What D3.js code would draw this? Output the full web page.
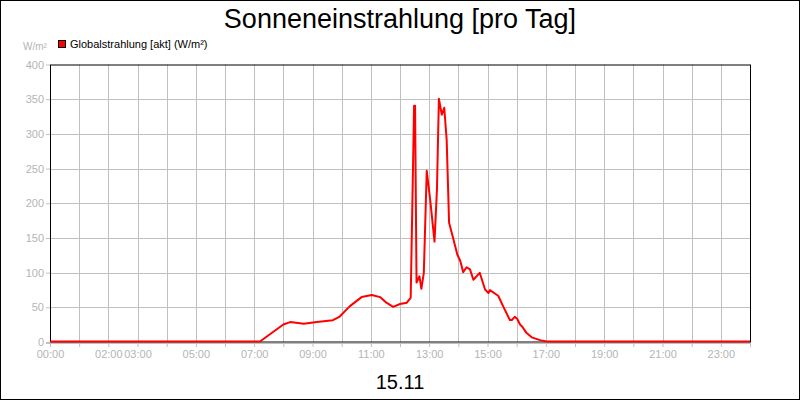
<!DOCTYPE html>
<html lang="de">
<head>
<meta charset="utf-8">
<script src="https://d3js.org/d3.v7.min.js"></script>
<style>
  body { margin: 0; background: #fff; }
  text { font-family: "Liberation Sans", Arial, sans-serif; }
</style>
</head>
<body>
<svg id="chart" width="800" height="400"></svg>
<script>
// readings of the day (time, W/m²)
var times = ["00:00","07:12","08:00","08:14","08:42","09:09","09:42","09:56","10:17","10:41",
  "11:02","11:19","11:32","11:46","12:00","12:14","12:19","12:22","12:29","12:31",
  "12:34","12:40","12:44","12:49","12:55","13:02","13:11","13:16","13:20","13:26",
  "13:31","13:36","13:41","13:50","13:58","14:04","14:10","14:17","14:24","14:31",
  "14:44","14:55","15:02","15:05","15:22","15:32","15:46","15:50","15:56","16:01",
  "16:07","16:12","16:20","16:31","16:48","17:02","24:00"];
var values = [0,0,24.5,28,25.5,28,30.7,36,51,64,
  67,64,56,50,54,56,60.5,63,340,340,
  85,94,76,99,246,205,144,219,350,327,
  337,291,171,147,125,116,100,107,104,89,
  99,75,70,74,66,51,31,31,35.5,32.7,
  24.5,21,12.5,6,2,0,0];

var yTicks = [0, 50, 100, 150, 200, 250, 300, 350, 400];
var xLabels = ["00:00","02:00","03:00","05:00","07:00","09:00","11:00","13:00","15:00","17:00","19:00","21:00","23:00"];
var title = "Sonneneinstrahlung [pro Tag]";
var dayLabel = "15.11";
var seriesName = "Globalstrahlung [akt] (W/m²)";
var unit = "W/m²";

function toHours(s) {
  var p = s.split(":");
  return +p[0] + (+p[1]) / 60;
}
var data = times.map(function(t, i) { return [toHours(t), values[i]]; });
var hours = d3.range(0, 25);

var plotLeft = 50, plotRight = 750, plotTop = 64.5, plotBottom = 342;
var gridColor = "#c0c0c0", labelColor = "#b4b4b4";

var x = d3.scaleLinear().domain([0, 24]).range([plotLeft, plotRight]);
var y = d3.scaleLinear().domain([0, 400]).range([plotBottom, plotTop]);

var svg = d3.select("#chart");

// outer frame
svg.append("rect").attr("x", 0.5).attr("y", 0.5).attr("width", 799).attr("height", 399)
  .attr("fill", "#fff").attr("stroke", "#000");

// grid
svg.append("g").selectAll("line").data(hours.slice(1, 24)).enter().append("line")
  .attr("x1", function(d) { return Math.round(x(d)) + 0.5; })
  .attr("x2", function(d) { return Math.round(x(d)) + 0.5; })
  .attr("y1", plotTop).attr("y2", plotBottom)
  .attr("stroke", gridColor);
svg.append("g").selectAll("line").data(yTicks.slice(1, -1)).enter().append("line")
  .attr("x1", plotLeft).attr("x2", plotRight)
  .attr("y1", function(d) { return Math.round(y(d)) + 0.5; })
  .attr("y2", function(d) { return Math.round(y(d)) + 0.5; })
  .attr("stroke", gridColor);

// y axis
var yAxis = svg.append("g").attr("transform", "translate(" + plotLeft + ",0)")
  .call(d3.axisLeft(y).tickValues(yTicks).tickSize(4).tickPadding(2));
yAxis.select(".domain").remove();
yAxis.selectAll("line").attr("stroke", gridColor);
yAxis.selectAll("text").attr("fill", labelColor).style("font-size", "11px")
  .style("font-family", "Liberation Sans, Arial, sans-serif");

// x axis
var xAxis = svg.append("g").attr("transform", "translate(0," + (plotBottom + 1) + ")")
  .call(d3.axisBottom(x).tickValues(hours).tickSize(4).tickPadding(3)
    .tickFormat(function(d) {
      var s = (d < 10 ? "0" : "") + d + ":00";
      return xLabels.indexOf(s) >= 0 ? s : "";
    }));
xAxis.select(".domain").attr("stroke", gridColor).attr("d", "M" + (plotLeft - 4) + ",0.5H" + plotRight);
xAxis.selectAll("line").attr("stroke", gridColor);
xAxis.selectAll("text").attr("fill", labelColor).style("font-size", "11px")
  .style("font-family", "Liberation Sans, Arial, sans-serif");

// plot frame
svg.append("rect").attr("x", plotLeft + 0.5).attr("y", plotTop + 0.5)
  .attr("width", plotRight - plotLeft).attr("height", plotBottom - plotTop - 0.5)
  .attr("fill", "none").attr("stroke", "#000");

// series
var line = d3.line().x(function(d) { return x(d[0]); }).y(function(d) { return y(d[1]) - 0.5; });
svg.append("path").datum(data).attr("d", line)
  .attr("fill", "none").attr("stroke", "#ff0000").attr("stroke-width", 2)
  .attr("stroke-linejoin", "round");

// titles
svg.append("text").attr("x", 400).attr("y", 28).attr("text-anchor", "middle")
  .style("font-size", "27px").text(title);
svg.append("text").attr("x", 400).attr("y", 389).attr("text-anchor", "middle")
  .style("font-size", "20px").text(dayLabel);

// unit + legend
svg.append("text").attr("x", 23).attr("y", 50).attr("fill", labelColor)
  .style("font-size", "10px").text(unit);
svg.append("rect").attr("x", 58.5).attr("y", 40.5).attr("width", 7).attr("height", 7)
  .attr("fill", "#ff0000").attr("stroke", "#000");
svg.append("text").attr("x", 70).attr("y", 48).style("font-size", "11px").text(seriesName);
</script>
</body>
</html>
